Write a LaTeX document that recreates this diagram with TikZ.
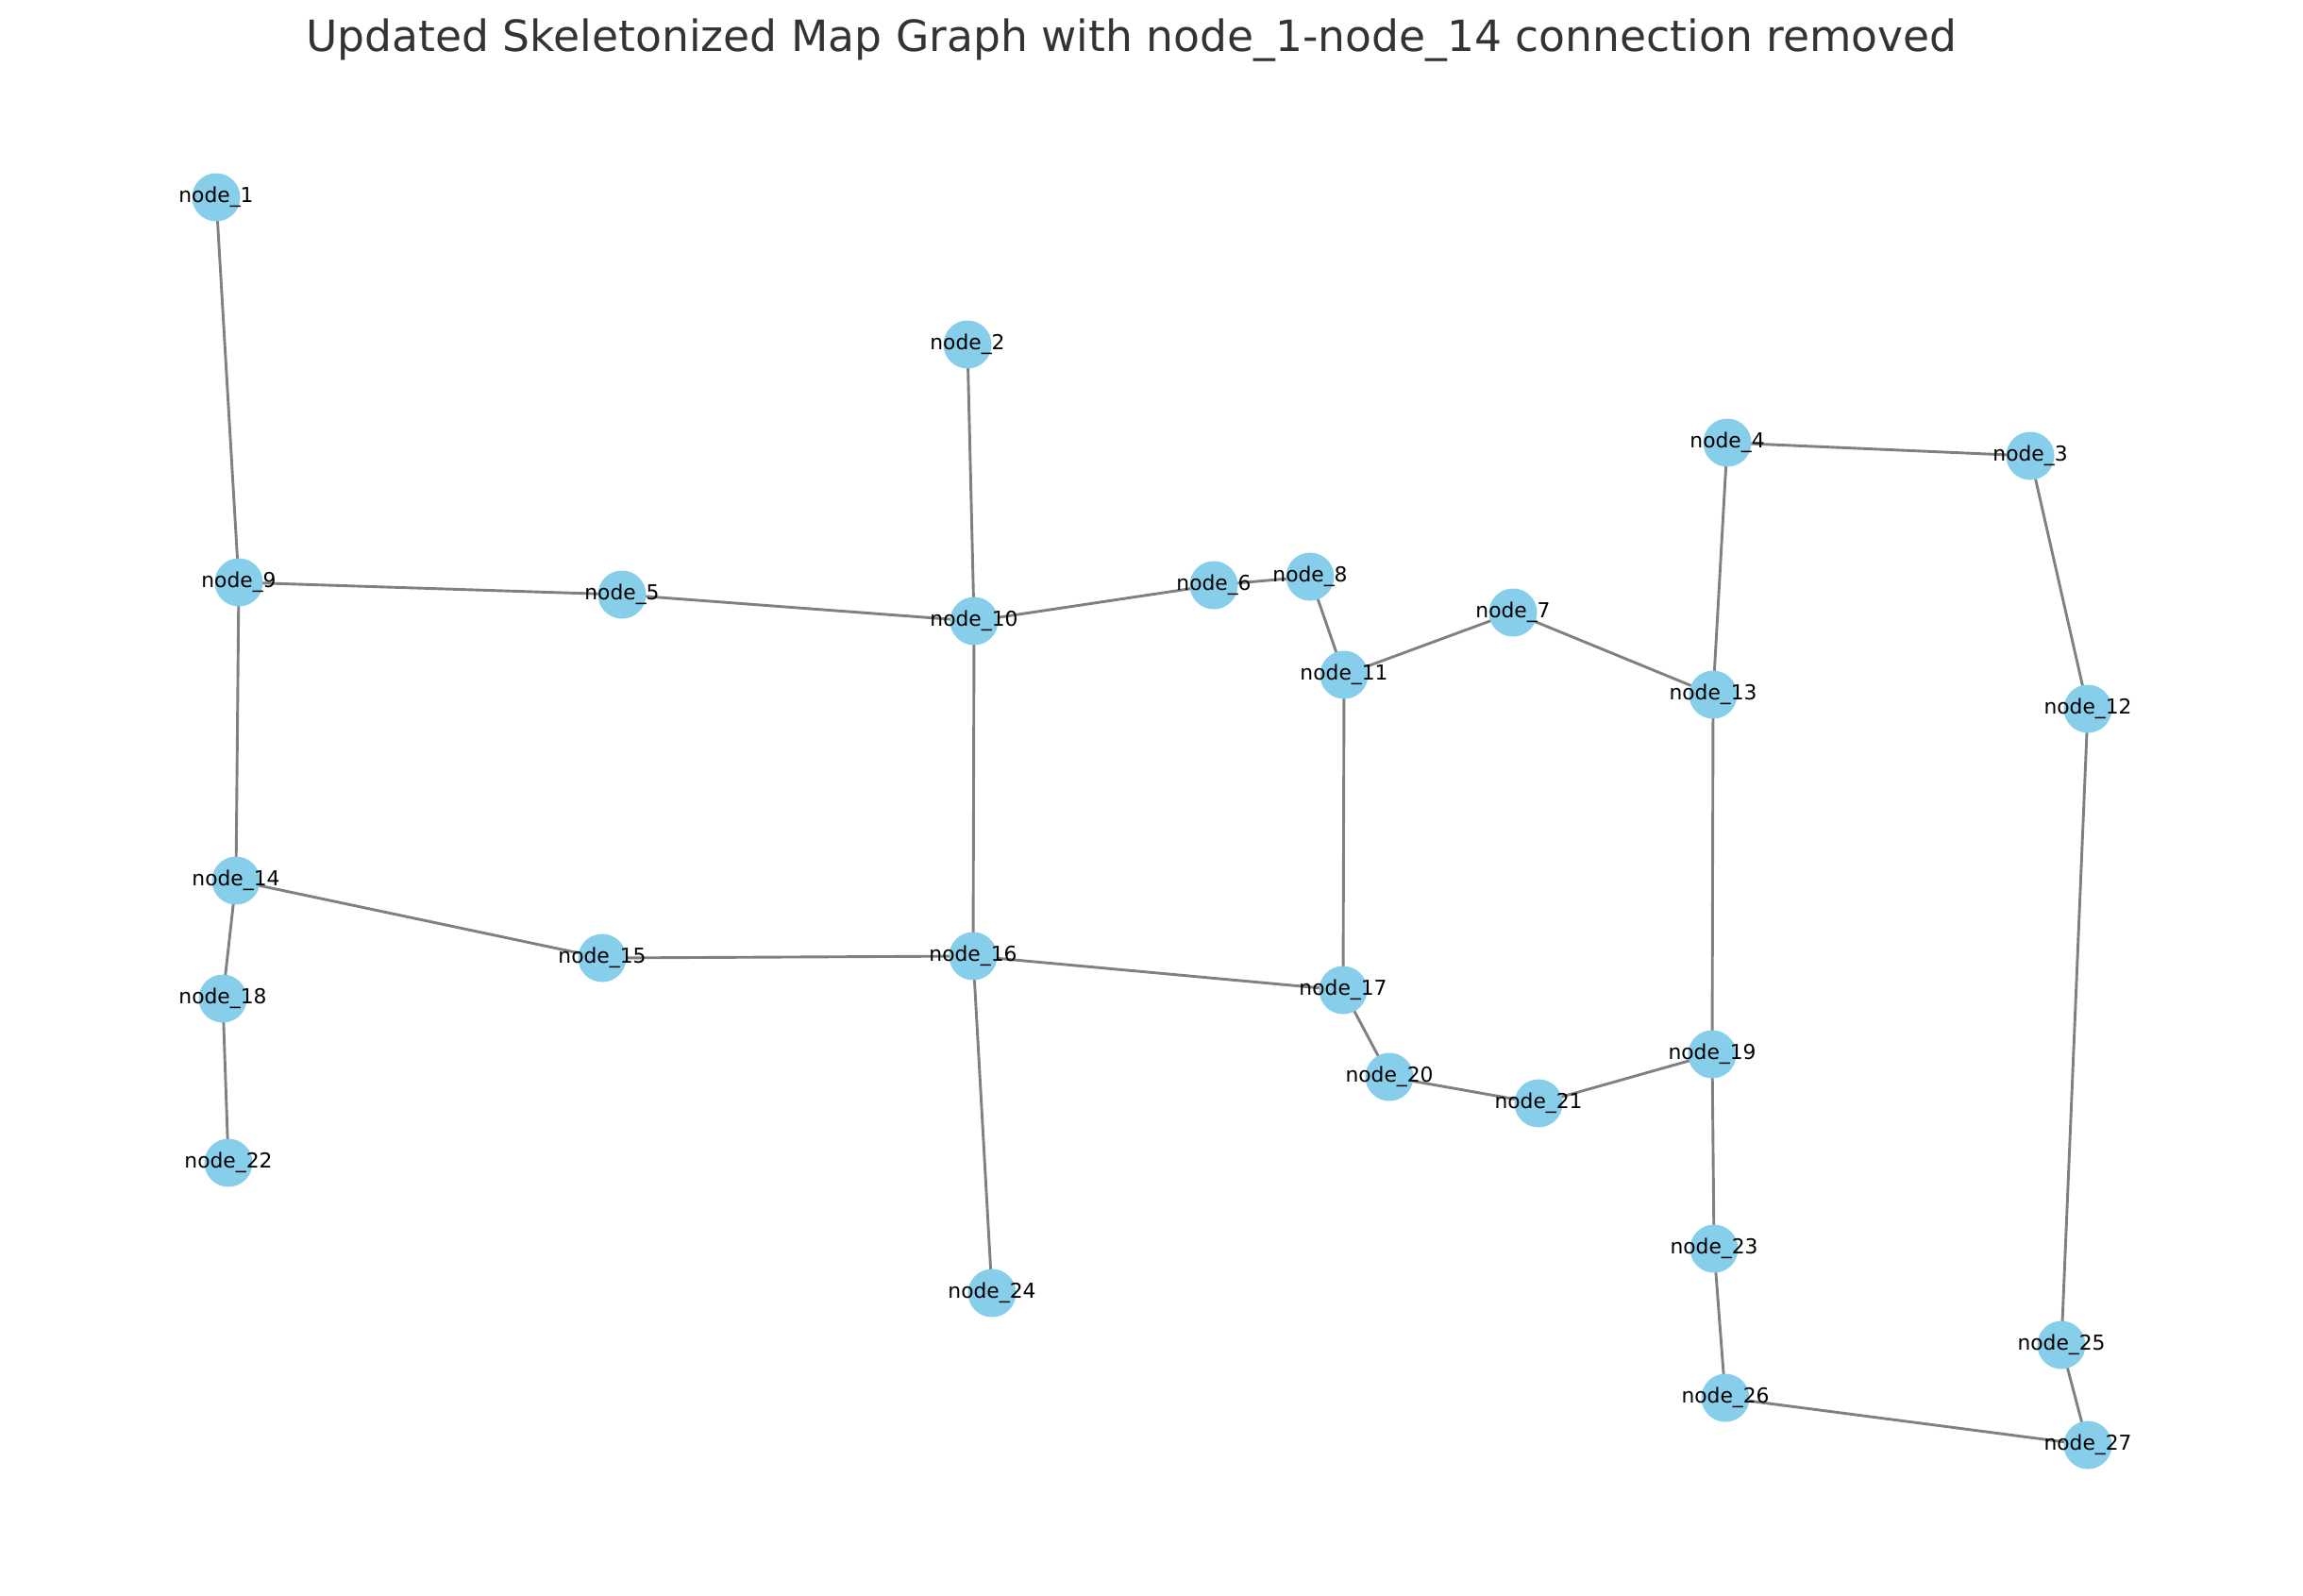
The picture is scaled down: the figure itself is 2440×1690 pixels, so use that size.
\documentclass[tikz,border=0pt]{standalone}
\usepackage{fontspec}
\setmainfont{DejaVu Sans}
\usetikzlibrary{backgrounds}
\definecolor{nodeblue}{HTML}{87CEEB}
\definecolor{edgegray}{HTML}{808080}
\definecolor{titlegray}{HTML}{333333}
\newcommand{\lbl}[1]{\makebox[0pt]{#1}}
\tikzset{
  gnode/.style={circle, fill=nodeblue, minimum size=51pt, inner sep=0pt,
    font=\fontsize{21.8}{24}\selectfont, text=black},
  gedge/.style={draw=edgegray, line width=2.9pt},
  titletext/.style={font=\fontsize{45.6}{50}\selectfont, text=titlegray, anchor=base, inner sep=0pt}
}
\begin{document}
\begin{tikzpicture}[x=1pt,y=-1pt]
\useasboundingbox (0,0) rectangle (2440,1690);
\node[titletext] (title) at (1199,54) {Updated Skeletonized Map Graph with node\_1-node\_14 connection removed};
\node[gnode] (n1) at (229,209) {\lbl{node\_1}};
\node[gnode] (n2) at (1025,365) {\lbl{node\_2}};
\node[gnode] (n3) at (2151,483) {\lbl{node\_3}};
\node[gnode] (n4) at (1830,469) {\lbl{node\_4}};
\node[gnode] (n5) at (659,630) {\lbl{node\_5}};
\node[gnode] (n6) at (1286,620) {\lbl{node\_6}};
\node[gnode] (n7) at (1603,649) {\lbl{node\_7}};
\node[gnode] (n8) at (1388,611) {\lbl{node\_8}};
\node[gnode] (n9) at (253,617) {\lbl{node\_9}};
\node[gnode] (n10) at (1032,658) {\lbl{node\_10}};
\node[gnode] (n11) at (1424,715) {\lbl{node\_11}};
\node[gnode] (n12) at (2212,751) {\lbl{node\_12}};
\node[gnode] (n13) at (1815,736) {\lbl{node\_13}};
\node[gnode] (n14) at (250,933) {\lbl{node\_14}};
\node[gnode] (n15) at (638,1015) {\lbl{node\_15}};
\node[gnode] (n16) at (1031,1013) {\lbl{node\_16}};
\node[gnode] (n17) at (1423,1049) {\lbl{node\_17}};
\node[gnode] (n18) at (236,1058) {\lbl{node\_18}};
\node[gnode] (n19) at (1814,1117) {\lbl{node\_19}};
\node[gnode] (n20) at (1472,1141) {\lbl{node\_20}};
\node[gnode] (n21) at (1630,1169) {\lbl{node\_21}};
\node[gnode] (n22) at (242,1232) {\lbl{node\_22}};
\node[gnode] (n23) at (1816,1323) {\lbl{node\_23}};
\node[gnode] (n24) at (1051,1370) {\lbl{node\_24}};
\node[gnode] (n25) at (2184,1425) {\lbl{node\_25}};
\node[gnode] (n26) at (1828,1481) {\lbl{node\_26}};
\node[gnode] (n27) at (2212,1531) {\lbl{node\_27}};
\begin{scope}[on background layer]
\foreach \a/\b in {1/9, 9/5, 9/14, 5/10, 2/10, 10/6, 6/8, 8/11, 11/7, 7/13, 4/13, 4/3, 3/12, 12/25, 25/27, 26/27, 23/26, 19/23, 13/19, 19/21, 21/20, 20/17, 11/17, 16/17, 10/16, 15/16, 14/15, 14/18, 18/22, 16/24}
  \draw[gedge] (n\a.center) -- (n\b.center);
\end{scope}
\end{tikzpicture}
\end{document}
